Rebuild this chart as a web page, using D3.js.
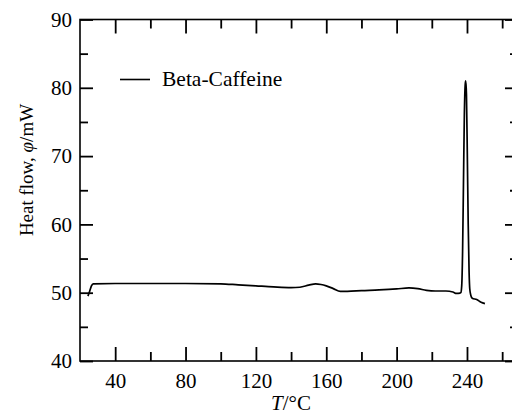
<!DOCTYPE html>
<html>
<head>
<meta charset="utf-8">
<script src="https://cdn.jsdelivr.net/npm/d3@7"></script>
<style>
  html, body { margin: 0; padding: 0; background: #fff; }
  svg { display: block; font-family: "Liberation Serif", "Times New Roman", serif; }
</style>
</head>
<body>
<svg id="chart" width="512" height="415"></svg>
<script>
// ---- data ----
const temperature = [24.5, 25.5, 26.5, 27.5, 40, 60, 80, 100, 110, 120, 130, 140, 145, 150, 154, 157, 160, 164, 168, 172, 180, 190, 200, 207, 212, 217, 222, 228, 232, 234, 236, 236.5, 237.0, 237.5, 238.0, 238.5, 239.0, 239.3, 239.7, 240.2, 240.7, 241.2, 241.6, 242.2, 243, 245.5, 248, 250.2];
const heatFlow    = [49.5, 50.2, 51.0, 51.3, 51.35, 51.35, 51.35, 51.3, 51.15, 51.0, 50.85, 50.75, 50.8, 51.1, 51.3, 51.2, 51.0, 50.6, 50.2, 50.2, 50.3, 50.4, 50.55, 50.7, 50.6, 50.35, 50.25, 50.25, 50.1, 49.9, 49.95, 50.0, 51, 56, 66, 76, 80.5, 81.0, 79, 70, 60, 53, 50.5, 49.6, 49.2, 49.0, 48.6, 48.4];
const seriesName = "Beta-Caffeine";
const xMajorTicks = [40, 80, 120, 160, 200, 240];
const xMinorTicks = [60, 100, 140, 180, 220, 260];
const yMajorTicks = [40, 50, 60, 70, 80, 90];
const yMinorTicks = [45, 55, 65, 75, 85];

// ---- layout ----
const svg = d3.select("#chart");
const mLeft = 80, mRight = 518, mTop = 19.5, mBottom = 361;
const x = d3.scaleLinear().domain([20, 269]).range([mLeft, mRight]);
const y = d3.scaleLinear().domain([40, 90]).range([mBottom, mTop]);

const fontSize = 21;
const serif = "'Liberation Serif', 'Times New Roman', serif";

// frame
svg.append("rect")
  .attr("x", mLeft).attr("y", mTop)
  .attr("width", mRight - mLeft).attr("height", mBottom - mTop)
  .attr("fill", "none").attr("stroke", "#000").attr("stroke-width", 1.6);

function styleAxis(g) {
  g.attr("font-family", serif);
  g.select(".domain").remove();
  g.selectAll(".tick line").attr("stroke", "#000").attr("stroke-width", 1.8);
  g.selectAll(".tick text").attr("fill", "#000").attr("font-size", fontSize)
    .attr("font-family", serif);
}

// bottom axis (major with labels, minor without)
svg.append("g").attr("transform", `translate(0,${mBottom})`)
  .call(d3.axisBottom(x).tickValues(xMajorTicks).tickSizeInner(-14).tickSizeOuter(0).tickPadding(12).tickFormat(d3.format("d")))
  .call(styleAxis);
svg.append("g").attr("transform", `translate(0,${mBottom})`)
  .call(d3.axisBottom(x).tickValues(xMinorTicks).tickSizeInner(-9).tickSizeOuter(0).tickFormat(""))
  .call(styleAxis);
// top axis
svg.append("g").attr("transform", `translate(0,${mTop})`)
  .call(d3.axisTop(x).tickValues(xMajorTicks).tickSizeInner(-14).tickSizeOuter(0).tickFormat(""))
  .call(styleAxis);
svg.append("g").attr("transform", `translate(0,${mTop})`)
  .call(d3.axisTop(x).tickValues(xMinorTicks).tickSizeInner(-9).tickSizeOuter(0).tickFormat(""))
  .call(styleAxis);
// left axis
svg.append("g").attr("transform", `translate(${mLeft},0)`)
  .call(d3.axisLeft(y).tickValues(yMajorTicks).tickSizeInner(-13).tickSizeOuter(0).tickPadding(8).tickFormat(d3.format("d")))
  .call(styleAxis);
svg.append("g").attr("transform", `translate(${mLeft},0)`)
  .call(d3.axisLeft(y).tickValues(yMinorTicks).tickSizeInner(-8).tickSizeOuter(0).tickFormat(""))
  .call(styleAxis);
// right axis
svg.append("g").attr("transform", `translate(${mRight},0)`)
  .call(d3.axisRight(y).tickValues(yMajorTicks).tickSizeInner(-13).tickSizeOuter(0).tickFormat(""))
  .call(styleAxis);
svg.append("g").attr("transform", `translate(${mRight},0)`)
  .call(d3.axisRight(y).tickValues(yMinorTicks).tickSizeInner(-8).tickSizeOuter(0).tickFormat(""))
  .call(styleAxis);

// curve
const pts = temperature.map((t, i) => [t, heatFlow[i]]);
svg.append("path")
  .datum(pts)
  .attr("fill", "none")
  .attr("stroke", "#000")
  .attr("stroke-width", 1.7)
  .attr("stroke-linejoin", "round")
  .attr("d", d3.line().x(d => x(d[0])).y(d => y(d[1])).curve(d3.curveMonotoneX));

// legend
svg.append("line")
  .attr("x1", 120).attr("x2", 150).attr("y1", 79.5).attr("y2", 79.5)
  .attr("stroke", "#000").attr("stroke-width", 1.6);
svg.append("text")
  .attr("x", 162).attr("y", 86)
  .attr("font-family", serif)
  .attr("font-size", fontSize + 0.5).attr("fill", "#000")
  .text(seriesName);

// axis titles
const xt = svg.append("text")
  .attr("x", 291).attr("y", 410)
  .attr("text-anchor", "middle")
  .attr("font-family", serif)
  .attr("font-size", fontSize).attr("fill", "#000");
xt.append("tspan").attr("font-style", "italic").text("T");
xt.append("tspan").text("/°C");

const yt = svg.append("text")
  .attr("transform", "translate(26,170) rotate(-90)")
  .attr("text-anchor", "middle")
  .attr("dy", "0.35em")
  .attr("font-family", serif)
  .attr("font-size", 19).attr("fill", "#000");
yt.append("tspan").text("Heat flow, ");
yt.append("tspan").attr("font-style", "italic").text("φ");
yt.append("tspan").text("/mW");
</script>
</body>
</html>
